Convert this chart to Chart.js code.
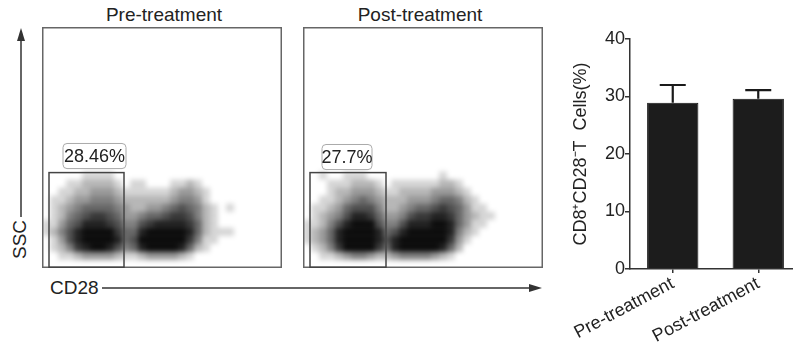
<!DOCTYPE html>
<html>
<head>
<meta charset="utf-8">
<script src="https://cdn.jsdelivr.net/npm/chart.js@4.4.0/dist/chart.umd.min.js"></script>
<style>
  html, body { margin: 0; padding: 0; background: #fff; overflow: hidden; }
  body { width: 793px; height: 344px; position: relative; font-family: "Liberation Sans", Arial, sans-serif; color: #222; }
  .abs { position: absolute; }
  .txt { font-size: 19px; line-height: 20px; white-space: nowrap; }
  canvas { position: absolute; }
</style>
</head>
<body>

<div class="abs txt" style="left:44px; top:5px; width:240px; text-align:center;">Pre-treatment</div>
<div class="abs txt" style="left:300px; top:5px; width:240px; text-align:center;">Post-treatment</div>
<div class="abs txt" style="left:2px; top:231px; width:36px; text-align:center; transform:rotate(-90deg);">SSC</div>
<div class="abs txt" style="left:50px; top:278px;">CD28</div>

<svg class="abs" style="left:0; top:0;" width="793" height="344">
  <g stroke="#333" stroke-width="1.5" fill="#333">
    <line x1="21" y1="217" x2="21" y2="38"/>
    <polygon points="21,28 17,41 25,41" stroke="none"/>
    <line x1="102" y1="288" x2="532" y2="288"/>
    <polygon points="542,288 529,284 529,292" stroke="none"/>
  </g>
</svg>

<canvas id="prePanel" style="left:42px; top:27px;" width="240" height="241"></canvas>
<canvas id="postPanel" style="left:303px; top:27px;" width="240" height="241"></canvas>
<canvas id="barChart" style="left:566px; top:0px;" width="235" height="344"></canvas>

<script>
// flow panels: density, 8-unit cells (0 = empty, 9 = solid)
var cellX = [4, 12, 20, 28, 36, 44, 52, 60, 68, 76, 84, 92, 100, 108, 116, 124, 132, 140, 148, 156, 164, 172, 180, 188, 196];
var cellY = [92, 84, 76, 68, 60, 52, 44, 36, 28, 20, 12];

var preDensity = [
  [0,0,0,0,0,1,1,1,1,0,0,0,0,0,0,0,0,0,0,0,0,0,0,0,0],
  [0,0,0,1,1,2,2,2,2,1,0,1,1,0,0,0,1,1,2,1,0,0,0,0,0],
  [0,0,1,1,2,2,3,3,3,2,1,1,1,1,1,1,2,3,3,2,1,0,0,0,0],
  [0,1,1,2,3,3,4,4,4,3,2,2,2,2,2,2,3,4,4,3,1,0,0,0,0],
  [0,1,2,3,4,5,5,5,5,4,3,2,2,3,3,4,5,6,5,4,2,1,0,1,0],
  [0,1,2,4,5,6,7,7,6,5,3,3,4,5,5,6,7,7,6,4,2,1,0,0,0],
  [1,1,3,5,6,8,8,8,7,6,4,4,6,7,8,8,8,8,7,5,2,1,0,0,0],
  [1,2,4,6,8,9,9,9,9,7,5,5,8,9,9,9,9,9,8,5,2,1,1,1,0],
  [0,1,3,6,8,9,9,9,9,8,5,6,9,9,9,9,9,9,7,4,1,1,0,0,0],
  [0,1,2,4,7,8,9,9,8,6,4,5,8,9,9,9,9,8,5,2,1,0,0,0,0],
  [0,0,1,1,2,3,3,3,3,2,1,1,2,3,3,3,3,2,1,0,0,0,0,0,0]
];

var postDensity = [
  [0,0,1,0,0,1,1,1,0,0,0,0,0,0,0,0,0,1,0,0,0,0,0,0,0],
  [0,0,0,1,1,1,2,2,2,1,0,1,1,1,1,1,1,2,2,1,0,0,0,0,0],
  [0,0,0,1,2,2,3,3,3,2,1,1,2,2,2,2,3,3,3,2,1,0,0,0,0],
  [0,0,1,1,2,3,4,5,4,3,2,2,2,3,3,3,4,5,5,4,2,1,0,0,0],
  [0,1,1,2,3,5,6,6,6,4,2,2,3,4,5,5,6,7,6,5,3,1,1,0,0],
  [0,1,2,3,4,6,8,8,7,5,3,3,4,6,7,7,8,8,7,5,3,2,1,1,0],
  [1,1,2,4,6,8,9,9,9,6,4,4,6,8,8,8,9,9,8,5,3,1,1,0,0],
  [1,2,3,5,8,9,9,9,9,8,5,6,8,9,9,9,9,9,8,4,2,1,0,0,0],
  [1,2,3,5,8,9,9,9,9,8,6,8,9,9,9,9,9,9,7,3,1,0,0,0,0],
  [0,1,2,4,7,9,9,9,9,7,5,8,9,9,9,9,9,8,5,2,0,0,0,0,0],
  [0,0,1,1,2,3,4,4,3,2,2,3,4,4,4,4,3,2,1,0,0,0,0,0,0]
];

// gates [x1, x2, y1, y2] and label boxes, in panel units
var preGate = [7, 82, 0, 95];
var preLabelBox = [21, 84, 99, 124];
var preLabel = '28.46%';
var postGate = [7, 83, 0, 95];
var postLabelBox = [19, 69, 98, 123];
var postLabel = '27.7%';

// bar chart
var groups = ['Pre-treatment', 'Post-treatment'];
var barMeans = [28.9, 29.6];
var barSD = [3.1, 1.5];
var yTitle = 'CD8\u207ACD28\u207BT  Cells(%)';

function densityPoints(grid) {
  var pts = [];
  for (var r = 0; r < grid.length; r++) {
    for (var c = 0; c < grid[r].length; c++) {
      if (grid[r][c] > 0) pts.push({x: cellX[c], y: cellY[r], d: grid[r][c]});
    }
  }
  return pts;
}

// soften the drawn cells into blobs
var softCells = {
  id: 'softCells',
  afterDatasetsDraw: function(chart) {
    var cv = chart.canvas, ctx = chart.ctx;
    var tmp = document.createElement('canvas');
    tmp.width = cv.width;
    tmp.height = cv.height;
    tmp.getContext('2d').drawImage(cv, 0, 0);
    ctx.save();
    ctx.setTransform(1, 0, 0, 1, 0, 0);
    ctx.clearRect(0, 0, cv.width, cv.height);
    ctx.filter = 'blur(2.5px)';
    ctx.drawImage(tmp, 0, 0);
    ctx.restore();
  }
};

var panelFrame = {
  id: 'panelFrame',
  afterDraw: function(chart, args, opts) {
    var ctx = chart.ctx, a = chart.chartArea, xs = chart.scales.x, ys = chart.scales.y;
    ctx.save();
    ctx.strokeStyle = '#666';
    ctx.lineWidth = 1.5;
    ctx.strokeRect(a.left + 0.75, a.top + 0.75, a.right - a.left - 1.5, a.bottom - a.top - 1.5);

    var g = opts.gate;
    var gx1 = xs.getPixelForValue(g[0]), gx2 = xs.getPixelForValue(g[1]);
    var gy1 = ys.getPixelForValue(g[2]) - 0.75, gy2 = ys.getPixelForValue(g[3]);
    ctx.strokeStyle = '#444';
    ctx.strokeRect(gx1, gy2, gx2 - gx1, gy1 - gy2);

    var b = opts.box;
    var bx1 = xs.getPixelForValue(b[0]), bx2 = xs.getPixelForValue(b[1]);
    var by1 = ys.getPixelForValue(b[2]), by2 = ys.getPixelForValue(b[3]);
    ctx.beginPath();
    ctx.roundRect(bx1, by2, bx2 - bx1, by1 - by2, 4);
    ctx.fillStyle = '#fff';
    ctx.fill();
    ctx.strokeStyle = '#aaa';
    ctx.lineWidth = 1;
    ctx.stroke();
    ctx.fillStyle = '#222';
    ctx.font = '18px "Liberation Sans", Arial, sans-serif';
    ctx.textAlign = 'center';
    ctx.textBaseline = 'middle';
    ctx.fillText(opts.label, (bx1 + bx2) / 2, (by1 + by2) / 2 + 1);
    ctx.restore();
  }
};

function makePanel(id, grid, gate, box, label) {
  return new Chart(document.getElementById(id).getContext('2d'), {
    type: 'scatter',
    data: {
      datasets: [{
        data: densityPoints(grid),
        pointStyle: 'rect',
        pointRadius: 5.66,
        pointBorderWidth: 0,
        backgroundColor: function(c) {
          var d = c.raw ? c.raw.d : 0;
          return 'rgba(0,0,0,' + (0.96 * Math.pow(d / 9, 0.8)).toFixed(3) + ')';
        }
      }]
    },
    options: {
      responsive: false,
      animation: false,
      events: [],
      layout: {padding: 0, autoPadding: false},
      scales: {
        x: {type: 'linear', min: 0, max: 240, display: false},
        y: {type: 'linear', min: 0, max: 240, display: false}
      },
      plugins: {
        legend: {display: false},
        tooltip: {enabled: false},
        panelFrame: {gate: gate, box: box, label: label}
      }
    },
    plugins: [softCells, panelFrame]
  });
}

makePanel('prePanel', preDensity, preGate, preLabelBox, preLabel);
makePanel('postPanel', postDensity, postGate, postLabelBox, postLabel);

var errorBars = {
  id: 'errorBars',
  afterDatasetsDraw: function(chart) {
    var ctx = chart.ctx, ys = chart.scales.y;
    chart.getDatasetMeta(0).data.forEach(function(bar, i) {
      var top = ys.getPixelForValue(barMeans[i] + barSD[i]);
      ctx.save();
      ctx.strokeStyle = '#1a1a1a';
      ctx.lineWidth = 2.2;
      ctx.beginPath();
      ctx.moveTo(bar.x, bar.y);
      ctx.lineTo(bar.x, top);
      ctx.moveTo(bar.x - 13, top);
      ctx.lineTo(bar.x + 13, top);
      ctx.stroke();
      ctx.restore();
    });
  }
};

var font18 = {family: '"Liberation Sans", Arial, sans-serif', size: 18};

new Chart(document.getElementById('barChart').getContext('2d'), {
  type: 'bar',
  data: {
    labels: groups,
    datasets: [{
      data: barMeans,
      backgroundColor: '#1c1c1c',
      borderColor: '#111',
      borderWidth: 1,
      barPercentage: 0.6,
      categoryPercentage: 1
    }]
  },
  options: {
    responsive: false,
    animation: false,
    events: [],
    layout: {padding: {top: 39, right: 0, bottom: 0, left: 0}, autoPadding: false},
    scales: {
      x: {
        grid: {offset: false, drawOnChartArea: false, drawTicks: true, tickLength: 4, color: '#333', lineWidth: 1.5},
        border: {display: true, color: '#333', width: 1.5},
        ticks: {color: '#222', font: font18, minRotation: 28, maxRotation: 28, padding: 0, autoSkip: false},
        afterFit: function(s) { s.height = 75; s.paddingLeft = 0; s.paddingRight = 0; }
      },
      y: {
        min: 0, max: 40,
        grid: {drawOnChartArea: false, drawTicks: true, tickLength: 5, color: '#333', lineWidth: 1.5},
        border: {display: true, color: '#333', width: 1.5},
        ticks: {stepSize: 10, color: '#222', font: font18, padding: 0},
        title: {display: true, text: yTitle, color: '#222', font: font18, padding: {top: 4, bottom: 0}},
        afterFit: function(s) { s.width = 64; s.paddingTop = 0; s.paddingBottom = 0; }
      }
    },
    plugins: {
      legend: {display: false},
      tooltip: {enabled: false}
    }
  },
  plugins: [errorBars]
});
</script>
</body>
</html>
